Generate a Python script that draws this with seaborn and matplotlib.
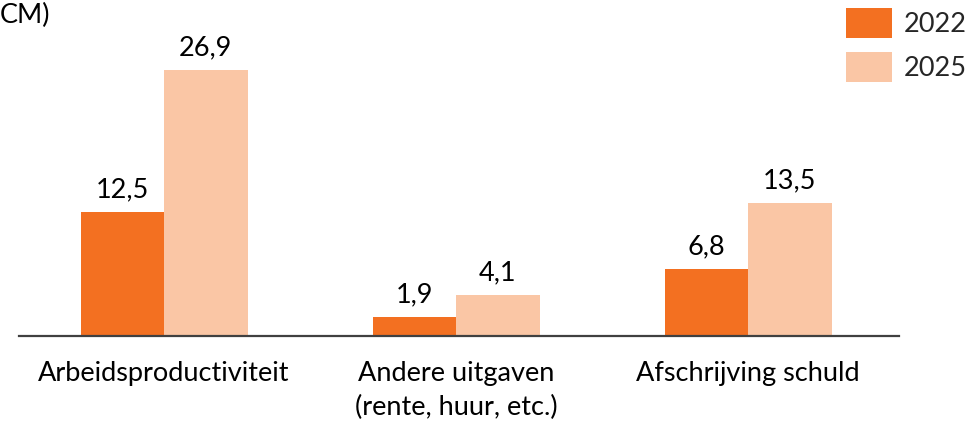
import matplotlib
matplotlib.use("Agg")
import matplotlib.pyplot as plt
import seaborn as sns
import pandas as pd

categories = ["Arbeidsproductiviteit", "Andere uitgaven\n(rente, huur, etc.)", "Afschrijving schuld"]
years = ["2022", "2025"]
values_2022 = [12.5, 1.9, 6.8]
values_2025 = [26.9, 4.1, 13.5]
colors = ["#F37021", "#FAC6A5"]

df = pd.DataFrame({
    "cat": categories * 2,
    "year": [years[0]] * 3 + [years[1]] * 3,
    "val": values_2022 + values_2025,
})

sns.set_theme(style="white")
plt.rcParams["font.family"] = ["Lato", "DejaVu Sans"]

FS = 19.5
fig = plt.figure(figsize=(9.66, 4.22), dpi=100)
ax = fig.add_axes([19/966, 86/422, (899-19)/966, 336/422])
sns.barplot(data=df, x="cat", y="val", hue="year", palette=colors, width=0.572,
            gap=0, ax=ax, legend=True, saturation=1, linewidth=0, edgecolor="none")

for cont in ax.containers:
    ax.bar_label(cont, labels=[f"{v:.1f}".replace(".", ",") for v in cont.datavalues],
                 padding=7, fontsize=FS, color="black")

ax.set_xlim(-0.497, 2.517)
ax.set_ylim(0, 34.0)
ax.set_xlabel("")
ax.set_ylabel("")
ax.set_yticks([])
ax.tick_params(axis="x", length=0, pad=18, labelsize=FS, labelcolor="black")
for lab in ax.get_xticklabels():
    lab.set_linespacing(1.45)
for s in ["top", "right", "left"]:
    ax.spines[s].set_visible(False)
ax.spines["bottom"].set_color("#404040")
ax.spines["bottom"].set_linewidth(1.6)

leg = ax.legend(loc="upper left", bbox_to_anchor=(846/966, 1 - 8/422), bbox_transform=fig.transFigure,
                frameon=False, fontsize=FS, handlelength=1.7, handleheight=1.3,
                labelspacing=0.55, handletextpad=0.45, borderpad=0, borderaxespad=0)

fig.text(0, 1 - 15/422, "CM)", ha="left", va="center", fontsize=FS, color="black")

fig.savefig("out.png", dpi=100)
